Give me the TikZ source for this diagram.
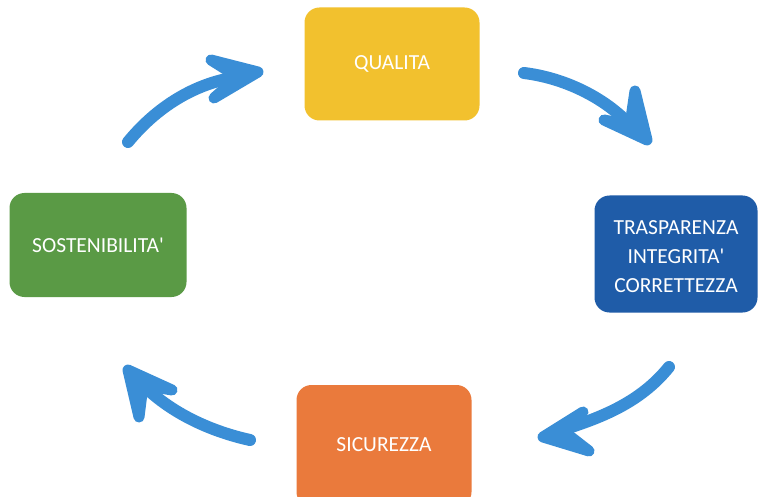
\documentclass[tikz,border=0pt]{standalone}
\usepackage{fontspec}
\setmainfont[Ligatures=TeXOff]{Carlito}
\definecolor{cyellow}{HTML}{F2C12E}
\definecolor{cblue}{HTML}{1F5CA8}
\definecolor{cgreen}{HTML}{5A9A45}
\definecolor{corange}{HTML}{EA7A3C}
\definecolor{carrow}{HTML}{3A8ED6}
\tikzset{
  box/.style={rounded corners=15pt, inner sep=0pt, text=white, align=center,
    font=\fontsize{21.5}{29}\selectfont},
  shaft/.style={draw=carrow, line width=12pt, line cap=round},
  head/.style={draw=carrow, fill=carrow, line width=11pt, line cap=round, line join=round},
}
\begin{document}
\begin{tikzpicture}[x=1pt,y=-1pt]
\useasboundingbox (0,0) rectangle (760,497);
\fill[white] (0,0) rectangle (760,497);
\begin{scope}
\clip (0,0) rectangle (760,497);
\node[box, fill=cyellow, minimum width=175pt, minimum height=113pt] (q) at (392,64) {QUALITA};
\node[box, fill=cblue, minimum width=163pt, minimum height=117pt] (t) at (676,254) {};
\node[text=white, align=center, font=\fontsize{21.5}{29}\selectfont] (tt) at (676,257) {TRASPARENZA\\INTEGRITA'\\CORRETTEZZA};
\node[box, fill=cgreen, minimum width=177pt, minimum height=104pt] (s) at (98,245) {SOSTENIBILITA'};
\node[box, fill=corange, minimum width=175pt, minimum height=122pt] (c) at (384,446) {};
\node[text=white, font=\fontsize{21.5}{29}\selectfont] (ct) at (384,445) {SICUREZZA};
\end{scope}
% arrow 1: sostenibilita -> qualita
\coordinate (a1s) at (128,142);
\coordinate (a1e) at (238,77);
\coordinate (a1t) at (258,72);
\coordinate (a1b) at (211,60);
\coordinate (a1c) at (214,98);
\draw[shaft] (a1s) .. controls (160,103) and (200,82) .. (a1e);
\draw[head] (a1b) -- (a1t) -- (a1c) -- (a1e) -- cycle;
% arrow 2: qualita -> trasparenza
\coordinate (a2s) at (524,73);
\coordinate (a2e) at (630,125);
\coordinate (a2t) at (647,140);
\coordinate (a2b) at (635,91);
\coordinate (a2c) at (604,120);
\draw[shaft] (a2s) .. controls (565,78) and (605,98) .. (a2e);
\draw[head] (a2b) -- (a2t) -- (a2c) -- (a2e) -- cycle;
% arrow 3: trasparenza -> sicurezza
\coordinate (a3s) at (669,367);
\coordinate (a3e) at (562,430);
\coordinate (a3t) at (543,437);
\coordinate (a3b) at (583,412);
\coordinate (a3c) at (589,451);
\draw[shaft] (a3s) .. controls (640,403) and (600,418) .. (a3e);
\draw[head] (a3b) -- (a3t) -- (a3c) -- (a3e) -- cycle;
% arrow 4: sicurezza -> sostenibilita
\coordinate (a4s) at (250,440);
\coordinate (a4e) at (143,385);
\coordinate (a4t) at (128,370);
\coordinate (a4b) at (172,390);
\coordinate (a4c) at (139,417);
\draw[shaft] (a4s) .. controls (205,430) and (168,410) .. (a4e);
\draw[head] (a4b) -- (a4t) -- (a4c) -- (a4e) -- cycle;
\end{tikzpicture}
\end{document}
